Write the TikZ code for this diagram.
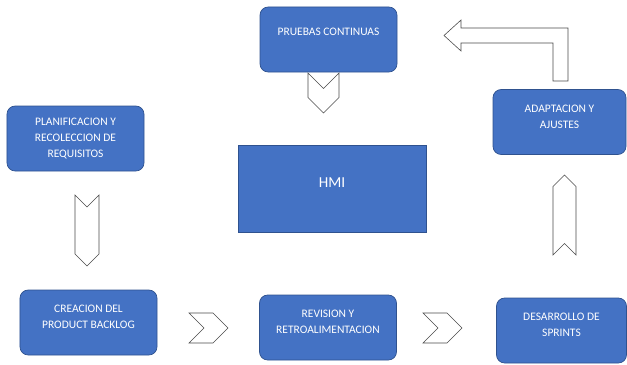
\documentclass[tikz,border=0pt]{standalone}
\usepackage{fontspec}
\setmainfont{Carlito}
\usetikzlibrary{shapes.symbols}

\definecolor{boxblue}{HTML}{4472C4}
\definecolor{boxline}{HTML}{2F528F}
\definecolor{arrowline}{HTML}{4A4A4A}

\begin{document}
\begin{tikzpicture}[x=0.03cm, y=-0.03cm,
  box/.style={draw=boxline, line width=0.6pt, fill=boxblue, rounded corners=7pt,
    minimum width=4.11cm, minimum height=1.95cm, inner sep=0pt},
  boxtext/.style={text=white, align=center, inner sep=0pt,
    font=\fontsize{9.8}{13.6}\selectfont},
  blockarrow/.style={signal, draw=arrowline, fill=white, line width=0.5pt,
    signal pointer angle=90, inner sep=0pt}
]

\useasboundingbox (0,0) rectangle (627,364);

% Top box and the arrow going down to the HMI
\node[box, label={[boxtext, yshift=6.4pt]center:PRUEBAS CONTINUAS}] (pruebas) at (328.5,39.5) {};
\node[blockarrow, signal to=south, signal from=north, minimum width=0.93cm, minimum height=0.27cm] (pruebasarrow) at (323.5,93) {};

% Central block
\node[draw=boxline, line width=0.6pt, fill=boxblue, minimum width=5.64cm, minimum height=2.61cm,
  label={[text=white, font=\fontsize{13}{15}\selectfont, yshift=4.7pt]center:HMI}] (hmi) at (332,188.5) {};

% Left column
\node[box, label={[boxtext]center:PLANIFICACION Y\\RECOLECCION DE\\REQUISITOS}] (plan) at (75.5,138.5) {};
\node[blockarrow, signal to=south, signal from=north, minimum width=0.72cm, minimum height=1.41cm] (planarrow) at (87,230.5) {};

% Bottom row
\node[box, label={[boxtext, yshift=5.1pt]center:CREACION DEL\\PRODUCT BACKLOG}] (creacion) at (88.5,322.5) {};
\node[blockarrow, signal to=east, signal from=west, minimum width=1.17cm, minimum height=0.9cm] (chevronone) at (208.5,328) {};
\node[box, label={[boxtext, yshift=5.1pt]center:REVISION Y\\RETROALIMENTACION}] (revision) at (328,327.5) {};
\node[blockarrow, signal to=east, signal from=west, minimum width=1.17cm, minimum height=0.9cm] (chevrontwo) at (442.5,328) {};
\node[box, minimum width=3.9cm, label={[boxtext, yshift=5.1pt]center:DESARROLLO DE\\SPRINTS}] (desarrollo) at (561.5,330.5) {};

% Right column
\node[blockarrow, signal to=north, signal from=south, minimum width=0.69cm, minimum height=1.71cm] (sprintarrow) at (564.5,215) {};
\node[box, minimum width=3.99cm, label={[boxtext, yshift=4.7pt]center:ADAPTACION Y\\AJUSTES}] (adapt) at (559.5,122) {};

% Bent arrow from the right column back to the top box
\draw[draw=arrowline, fill=white, line width=0.5pt] (444,35.5) -- (461,20) -- (461,28) -- (568,28) -- (568,81)
  -- (553,81) -- (553,43) -- (461,43) -- (461,51) -- cycle;

\end{tikzpicture}
\end{document}
